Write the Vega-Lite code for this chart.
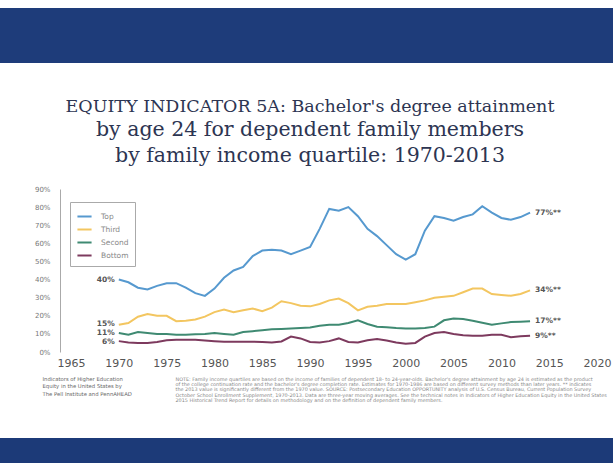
{
  "$schema": "https://vega.github.io/schema/vega-lite/v6.json",
  "background": "#ffffff",
  "padding": {"left": 0, "top": 8, "right": 0, "bottom": 0},
  "spacing": 35,
  "config": {"view": {"stroke": null}, "font": "DejaVu Sans"},
  "vconcat": [
    {
      "width": 613,
      "height": 55,
      "view": {"fill": "#1e3c7a", "stroke": null},
      "data": {"values": []},
      "mark": "rect",
      "encoding": {}
    },
    {
      "width": 608,
      "height": 163,
      "title": {
        "text": "EQUITY INDICATOR 5A: Bachelor's degree attainment",
        "subtitle": ["by age 24 for dependent family members", "by family income quartile: 1970-2013"],
        "font": "DejaVu Serif",
        "fontSize": 17.5,
        "fontWeight": "normal",
        "color": "#2d3552",
        "subtitleFont": "DejaVu Serif",
        "subtitleFontSize": 20.5,
        "subtitleColor": "#2d3552",
        "subtitleLineHeight": 26,
        "subtitlePadding": 4,
        "anchor": "middle",
        "frame": "group",
        "dx": 6,
        "offset": 19
      },
      "encoding": {
        "x": {
          "field": "year",
          "type": "quantitative",
          "scale": {"domain": [1957.576, 2021.148], "nice": false, "zero": false},
          "axis": {
            "values": [1965, 1970, 1975, 1980, 1985, 1990, 1995, 2000, 2005, 2010, 2015, 2020],
            "format": "d",
            "grid": false,
            "domain": false,
            "ticks": false,
            "tickSize": 0,
            "labelPadding": 5,
            "labelFontSize": 11,
            "labelColor": "#555555",
            "title": ["Indicators of Higher Education", "Equity in the United States by", "The Pell Institute and PennAHEAD"],
            "titleX": 42,
            "titleY": 24,
            "titleAlign": "left",
            "titleBaseline": "top",
            "titleAngle": 0,
            "titleFontSize": 5.3,
            "titleLineHeight": 7.5,
            "titleFontWeight": "normal",
            "titleColor": "#666666"
          }
        },
        "y": {
          "field": "v",
          "type": "quantitative",
          "scale": {"domain": [0, 90], "nice": false, "zero": true},
          "axis": {
            "values": [0, 10, 20, 30, 40, 50, 60, 70, 80, 90],
            "labelExpr": "datum.value + '%'",
            "offset": -60,
            "grid": false,
            "ticks": false,
            "tickSize": 0,
            "domain": true,
            "domainColor": "#aaaaaa",
            "labelPadding": 10,
            "labelFontSize": 7,
            "labelColor": "#777777",
            "title": [
              "NOTE: Family income quartiles are based on the income of families of dependent 18- to 24-year-olds. Bachelor's degree attainment by age 24 is estimated as the product",
              "of the college continuation rate and the bachelor's degree completion rate. Estimates for 1970-1986 are based on different survey methods than later years. ** indicates",
              "the 2013 value is significantly different from the 1970 value. SOURCE: Postsecondary Education OPPORTUNITY analysis of U.S. Census Bureau, Current Population Survey",
              "October School Enrollment Supplement, 1970-2013. Data are three-year moving averages. See the technical notes in Indicators of Higher Education Equity in the United States",
              "2015 Historical Trend Report for details on methodology and on the definition of dependent family members."
            ],
            "titleAngle": 0,
            "titleX": 115,
            "titleY": 187,
            "titleAlign": "left",
            "titleBaseline": "top",
            "titleFontSize": 4.9,
            "titleLineHeight": 5.4,
            "titleFontWeight": "normal",
            "titleColor": "#888888"
          }
        }
      },
      "layer": [
        {
          "data": {"values": [{"v": 0}, {"v": 10}, {"v": 20}, {"v": 30}, {"v": 40}, {"v": 50}, {"v": 60}, {"v": 70}, {"v": 80}, {"v": 90}]},
          "mark": {"type": "rule", "color": "#e3e3e3", "strokeWidth": 1},
          "encoding": {"x": {"datum": 1963.85}, "x2": {"datum": 2021.4}}
        },
        {
          "data": {"values": [
            {"year": 1970, "Top": 40, "Third": 15, "Second": 10.5, "Bottom": 6},
            {"year": 1971, "Top": 38.5, "Third": 16, "Second": 9.5, "Bottom": 5.3},
            {"year": 1972, "Top": 35.5, "Third": 19.5, "Second": 11, "Bottom": 5},
            {"year": 1973, "Top": 34.5, "Third": 21, "Second": 10.5, "Bottom": 5},
            {"year": 1974, "Top": 36.5, "Third": 20, "Second": 10, "Bottom": 5.5},
            {"year": 1975, "Top": 38, "Third": 20, "Second": 10, "Bottom": 6.5},
            {"year": 1976, "Top": 38, "Third": 17, "Second": 9.5, "Bottom": 6.8},
            {"year": 1977, "Top": 35.5, "Third": 17.3, "Second": 9.5, "Bottom": 6.8},
            {"year": 1978, "Top": 32.5, "Third": 18, "Second": 9.8, "Bottom": 6.8},
            {"year": 1979, "Top": 31, "Third": 19.5, "Second": 10, "Bottom": 6.4},
            {"year": 1980, "Top": 35, "Third": 22, "Second": 10.5, "Bottom": 6},
            {"year": 1981, "Top": 41, "Third": 23.5, "Second": 10, "Bottom": 5.7},
            {"year": 1982, "Top": 45, "Third": 22, "Second": 9.5, "Bottom": 5.7},
            {"year": 1983, "Top": 47, "Third": 23, "Second": 11, "Bottom": 5.7},
            {"year": 1984, "Top": 53, "Third": 24, "Second": 11.5, "Bottom": 5.7},
            {"year": 1985, "Top": 56, "Third": 22.5, "Second": 12, "Bottom": 5.5},
            {"year": 1986, "Top": 56.5, "Third": 24.5, "Second": 12.5, "Bottom": 5.2},
            {"year": 1987, "Top": 56, "Third": 28, "Second": 12.7, "Bottom": 5.8},
            {"year": 1988, "Top": 54, "Third": 27, "Second": 13, "Bottom": 8.5},
            {"year": 1989, "Top": 56, "Third": 25.5, "Second": 13.2, "Bottom": 7.5},
            {"year": 1990, "Top": 58, "Third": 25.2, "Second": 13.5, "Bottom": 5.5},
            {"year": 1991, "Top": 68, "Third": 26.5, "Second": 14.5, "Bottom": 5.3},
            {"year": 1992, "Top": 79, "Third": 28.5, "Second": 15, "Bottom": 6},
            {"year": 1993, "Top": 78, "Third": 29.5, "Second": 15, "Bottom": 7.5},
            {"year": 1994, "Top": 80, "Third": 27, "Second": 16, "Bottom": 5.5},
            {"year": 1995, "Top": 75, "Third": 23, "Second": 17.5, "Bottom": 5.3},
            {"year": 1996, "Top": 68, "Third": 25, "Second": 15.5, "Bottom": 6.5},
            {"year": 1997, "Top": 64, "Third": 25.5, "Second": 14, "Bottom": 7.2},
            {"year": 1998, "Top": 59, "Third": 26.5, "Second": 13.6, "Bottom": 6.3},
            {"year": 1999, "Top": 54, "Third": 26.5, "Second": 13.2, "Bottom": 5.2},
            {"year": 2000, "Top": 51, "Third": 26.5, "Second": 13, "Bottom": 4.5},
            {"year": 2001, "Top": 54, "Third": 27.5, "Second": 13, "Bottom": 5},
            {"year": 2002, "Top": 67, "Third": 28.5, "Second": 13.3, "Bottom": 8.5},
            {"year": 2003, "Top": 75, "Third": 30, "Second": 14, "Bottom": 10.5},
            {"year": 2004, "Top": 74, "Third": 30.5, "Second": 17.5, "Bottom": 11},
            {"year": 2005, "Top": 72.5, "Third": 31, "Second": 18.5, "Bottom": 10},
            {"year": 2006, "Top": 74.5, "Third": 33, "Second": 18.2, "Bottom": 9.3},
            {"year": 2007, "Top": 76, "Third": 35, "Second": 17.3, "Bottom": 9},
            {"year": 2008, "Top": 80.5, "Third": 35, "Second": 16.2, "Bottom": 9},
            {"year": 2009, "Top": 77, "Third": 32, "Second": 15, "Bottom": 9.5},
            {"year": 2010, "Top": 74, "Third": 31.5, "Second": 15.8, "Bottom": 9.5},
            {"year": 2011, "Top": 73, "Third": 31, "Second": 16.5, "Bottom": 8.2},
            {"year": 2012, "Top": 74.5, "Third": 32, "Second": 16.7, "Bottom": 8.7},
            {"year": 2013, "Top": 77, "Third": 34, "Second": 17, "Bottom": 9}
          ]},
          "transform": [{"fold": ["Top", "Third", "Second", "Bottom"], "as": ["quartile", "v"]}],
          "mark": {"type": "line", "strokeWidth": 2},
          "encoding": {
            "color": {
              "field": "quartile",
              "type": "nominal",
              "scale": {"domain": ["Top", "Third", "Second", "Bottom"], "range": ["#5699cf", "#f3c660", "#3f8a72", "#7d3a5e"]},
              "legend": {
                "title": null,
                "orient": "none",
                "legendX": 70,
                "legendY": 194,
                "symbolType": "stroke",
                "symbolStrokeWidth": 2,
                "symbolSize": 200,
                "labelFontSize": 7.5,
                "labelColor": "#888888",
                "labelOffset": 8,
                "rowPadding": 0,
                "padding": 6,
                "strokeColor": "#aaaaaa",
                "fillColor": "#ffffff"
              }
            }
          }
        },
        {
          "data": {"values": [
            {"year": 1970, "v": 40, "label": "40%", "side": "start"},
            {"year": 1970, "v": 15.5, "label": "15%", "side": "start"},
            {"year": 1970, "v": 10.5, "label": "11%", "side": "start"},
            {"year": 1970, "v": 5.5, "label": "6%", "side": "start"},
            {"year": 2013, "v": 77, "label": "77%**", "side": "end"},
            {"year": 2013, "v": 34, "label": "34%**", "side": "end"},
            {"year": 2013, "v": 17, "label": "17%**", "side": "end"},
            {"year": 2013, "v": 9, "label": "9%**", "side": "end"}
          ]},
          "layer": [
            {
              "transform": [{"filter": "datum.side == 'start'"}],
              "mark": {"type": "text", "align": "right", "dx": -4, "fontSize": 7.5, "fontWeight": "bold", "color": "#555555"},
              "encoding": {"text": {"field": "label"}}
            },
            {
              "transform": [{"filter": "datum.side == 'end'"}],
              "mark": {"type": "text", "align": "left", "dx": 5, "fontSize": 7.5, "fontWeight": "bold", "color": "#555555"},
              "encoding": {"text": {"field": "label"}}
            }
          ]
        }
      ]
    },
    {
      "width": 613,
      "height": 25,
      "view": {"fill": "#1c3a78", "stroke": null},
      "data": {"values": []},
      "mark": "rect",
      "encoding": {}
    }
  ]
}
